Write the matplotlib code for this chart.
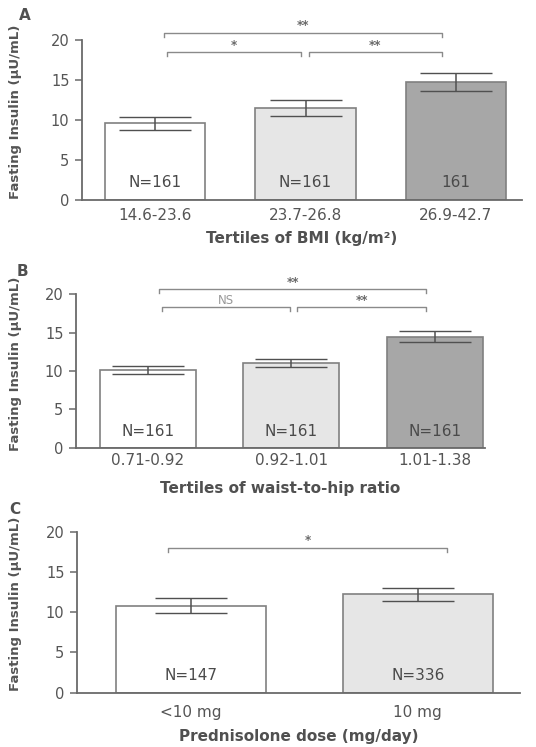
import numpy as np
import matplotlib.pyplot as plt

plt.rcParams['font.family'] = ['DejaVu Sans']

# panel A: BMI tertiles
bmi_labels = ['14.6-23.6', '23.7-26.8', '26.9-42.7']
bmi_mean = [9.6, 11.5, 14.7]
bmi_lo = [8.8, 10.5, 13.6]
bmi_hi = [10.4, 12.5, 15.9]
bmi_n = ['N=161', 'N=161', '161']
bmi_sig = [(0.06, 1.91, 20.9, '**'), (0.08, 0.97, 18.5, '*'), (1.02, 1.91, 18.5, '**')]

# panel B: waist-to-hip ratio tertiles
whr_labels = ['0.71-0.92', '0.92-1.01', '1.01-1.38']
whr_mean = [10.1, 11.0, 14.4]
whr_lo = [9.6, 10.55, 13.8]
whr_hi = [10.7, 11.55, 15.2]
whr_n = ['N=161', 'N=161', 'N=161']
whr_sig = [(0.08, 1.94, 20.65, '**'), (0.1, 0.99, 18.3, 'NS'), (1.04, 1.94, 18.3, '**')]

# panel C: prednisolone dose
pred_labels = ['<10 mg', '10 mg']
pred_mean = [10.8, 12.2]
pred_lo = [9.9, 11.4]
pred_hi = [11.8, 13.05]
pred_n = ['N=147', 'N=336']
pred_sig = [(-0.1, 1.13, 18.0, '*')]

fills3 = ['white', '#e6e6e6', '#a7a7a7']
fills2 = ['white', '#e6e6e6']
grey = '#6a6a6a'

W, H = 536, 747
fig = plt.figure(figsize=(W / 100, H / 100), dpi=100)


def panel(box, labels, mean, lo, hi, nlab, sig, fills, xlim, width, ny,
          letter, letter_xy, title, title_y, tick_pad):
    left, bottom, right, top = box
    ax = fig.add_axes([left / W, 1 - bottom / H, (right - left) / W, (bottom - top) / H])
    x = np.arange(len(mean))
    mean = np.array(mean)
    err = [mean - np.array(lo), np.array(hi) - mean]
    ax.bar(x, mean, width=width, color=fills, edgecolor='#808080', linewidth=1.2, zorder=2)
    ax.errorbar(x, mean, yerr=err, fmt='none', ecolor='#505050', elinewidth=1.1,
                capsize=26, capthick=1.0, zorder=3)
    for xi, t in zip(x, nlab):
        ax.text(xi, ny, t, ha='center', va='bottom', fontsize=11, color='#4a4a4a', zorder=4)
    for x1, x2, y, t in sig:
        ax.plot([x1, x1, x2, x2], [y - 0.5, y, y, y - 0.5], color='#8a8a8a', lw=1.0,
                clip_on=False)
        c = '#9a9a9a' if t == 'NS' else '#6a6a6a'
        ax.text((x1 + x2) / 2, y + 0.05, t, ha='center', va='bottom', fontsize=8.5,
                color=c, fontweight='bold' if t != 'NS' else 'normal')
    ax.set_xlim(*xlim)
    ax.set_ylim(0, 22)
    ax.set_yticks([0, 5, 10, 15, 20])
    ax.set_xticks(x)
    ax.set_xticklabels(labels)
    for s in ['top', 'right']:
        ax.spines[s].set_visible(False)
    ax.spines['left'].set_bounds(0, 20)
    for s in ['left', 'bottom']:
        ax.spines[s].set_color(grey)
        ax.spines[s].set_linewidth(1.3)
    ax.tick_params(axis='y', length=5, width=1.1, color=grey, labelcolor='#555555',
                   labelsize=10.5, pad=4)
    ax.tick_params(axis='x', length=0, labelcolor='#555555', labelsize=11, pad=tick_pad)
    ax.set_ylabel('Fasting Insulin (µU/mL)', fontsize=9.5, color='#555555',
                  fontweight='bold')
    ax.yaxis.set_label_coords(-(left - 22) / (right - left), 0.5)
    fig.text(letter_xy[0] / W, 1 - letter_xy[1] / H, letter, fontsize=11,
             fontweight='bold', color='#505050', ha='center', va='center')
    fig.text((left + right) / 2 / W, 1 - title_y / H, title, fontsize=11,
             fontweight='bold', color='#505050', ha='center', va='center')
    return ax


panel((82, 200, 522, 24), bmi_labels, bmi_mean, bmi_lo, bmi_hi, bmi_n, bmi_sig,
      fills3, (-0.487, 2.44), 0.667, 1.3, 'A', (25, 16), 'Tertiles of BMI (kg/m²)', 238, 6)
panel((76, 447.7, 485, 279), whr_labels, whr_mean, whr_lo, whr_hi, whr_n, whr_sig,
      fills3, (-0.5, 2.35), 0.67, 1.1, 'B', (22, 271), 'Tertiles of waist-to-hip ratio', 489, 4)
panel((77, 692.7, 520, 515.6), pred_labels, pred_mean, pred_lo, pred_hi, pred_n, pred_sig,
      fills2, (-0.5, 1.45), 0.66, 1.2, 'C', (15, 510), 'Prednisolone dose (mg/day)', 737, 9)

fig.savefig('out.png', dpi=100)
